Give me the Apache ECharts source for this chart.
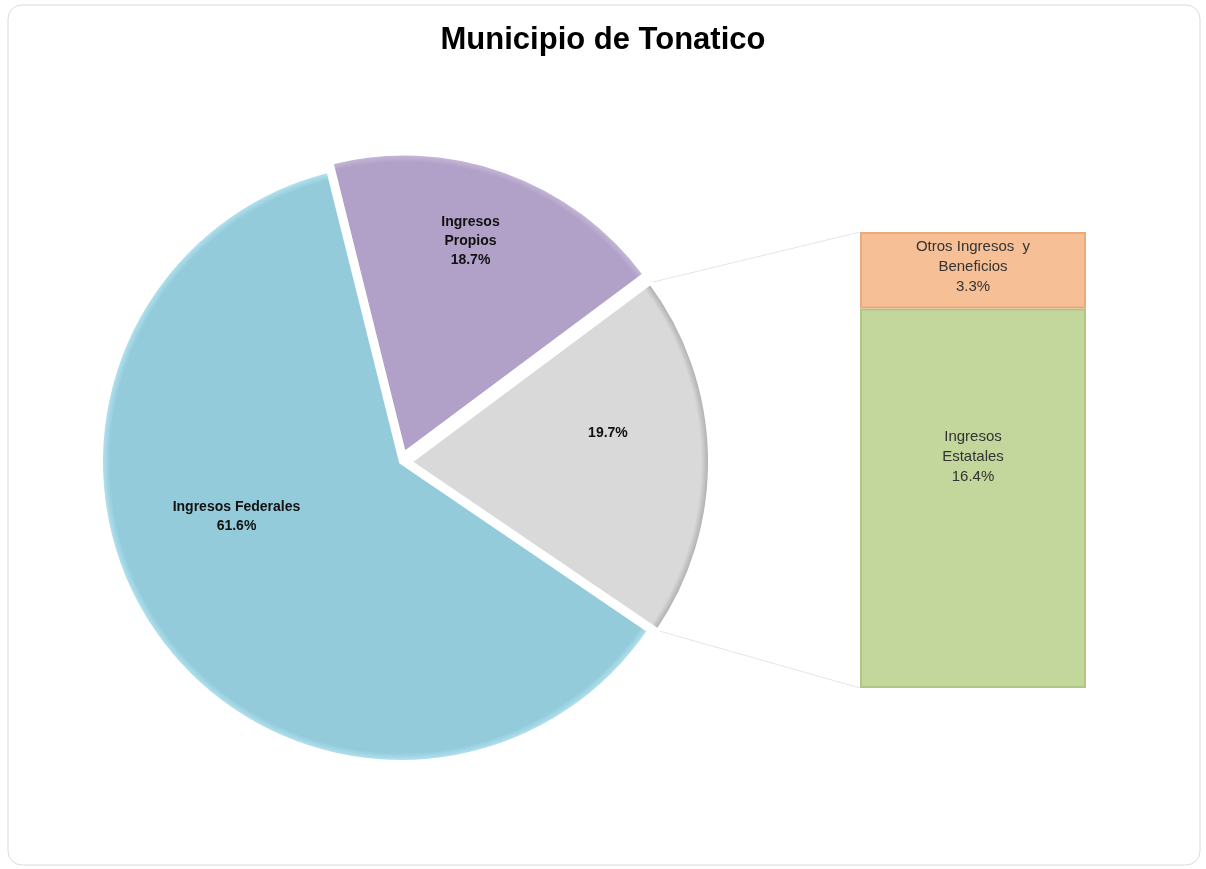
<!DOCTYPE html>
<html>
<head>
<meta charset="utf-8">
<script src="https://cdn.jsdelivr.net/npm/echarts@6/dist/echarts.min.js"></script>
<style>
  html, body { margin: 0; padding: 0; background: #fff; }
  #chart { width: 1206px; height: 869px; }
</style>
</head>
<body>
<div id="chart"></div>
<script>
// pie: main shares (the grey slice is split in the bar on the right)
const pieNames = ['Ingresos Propios', 'Otros', 'Ingresos Federales'];
const pieValues = [18.7, 19.7, 61.6];
const pieLabels = ['Ingresos\nPropios\n18.7%', '19.7%', 'Ingresos Federales\n61.6%'];

// bar: breakdown of the grey slice (bottom to top)
const barNames = ['Ingresos Estatales', 'Otros Ingresos y Beneficios'];
const barValues = [16.4, 3.3];
const barLabels = ['Ingresos\nEstatales\n16.4%', 'Otros Ingresos  y\nBeneficios\n3.3%'];

const CX = 401, CY = 462, R = 300, START = 104, OFFSET = 9;

function rim(main, edge) {
    // fake bevel: flat colour with a thin rim near the outer edge
    return {
        type: 'radial', x: CX, y: CY, r: R, global: true,
        colorStops: [
            { offset: 0, color: main },
            { offset: 0.97, color: main },
            { offset: 1, color: edge }
        ]
    };
}

const pieColors = [
    rim('#b1a0c7', '#c9bddb'),
    rim('#d9d9d9', '#a6a6a6'),
    rim('#93cbdb', '#b9e6f2')
];
const barColors = ['#c3d69b', '#f6bf96'];
const barBorders = ['#b0c783', '#e9aa7c'];
// where the bar labels sit inside their blocks
const barLabelOffset = [[0, -41], [0, -3]];

// label nudges so they sit where the original put them
const labelShift = [[15, -68], [45, -25], [-39, -33]];

const chart = echarts.init(document.getElementById('chart'));

const option = {
    animation: false,
    backgroundColor: '#fff',
    title: {
        text: 'Municipio de Tonatico',
        left: 'center',
        top: 20,
        textStyle: {
            fontFamily: 'Liberation Sans, Arial',
            fontWeight: 'bold',
            fontSize: 31,
            color: '#000'
        }
    },
    graphic: [{
        type: 'rect',
        z: -10,
        shape: { x: 8, y: 5, width: 1192, height: 860, r: 14 },
        style: { fill: '#fff', stroke: '#dcdcd2', lineWidth: 1 }
    }],
    grid: { left: 860, top: 232, width: 226, height: 456 },
    xAxis: { type: 'category', data: ['x'], show: false },
    yAxis: { type: 'value', min: 0, max: 19.7, show: false },
    series: [
        {
            type: 'pie',
            center: [CX, CY],
            radius: R,
            startAngle: START,
            clockwise: true,
            selectedMode: 'multiple',
            selectedOffset: OFFSET,
            itemStyle: { borderColor: '#fff', borderWidth: 4 },
            label: {
                show: true,
                position: 'inside',
                fontFamily: 'Liberation Sans, Arial',
                fontWeight: 'bold',
                fontSize: 14,
                lineHeight: 19,
                color: '#111'
            },
            labelLayout: function (p) {
                return { dx: labelShift[p.dataIndex][0], dy: labelShift[p.dataIndex][1] };
            },
            emphasis: { disabled: true },
            data: pieNames.map((n, i) => ({
                name: n,
                value: pieValues[i],
                selected: i < 2,
                itemStyle: { color: pieColors[i] },
                label: { formatter: pieLabels[i] }
            }))
        }
    ].concat(barNames.map((n, i) => ({
        type: 'bar',
        name: n,
        stack: 'otros',
        barWidth: '100%',
        data: [barValues[i]],
        itemStyle: { color: barColors[i], borderColor: barBorders[i], borderWidth: 2 },
        label: {
            show: true,
            position: 'inside',
            offset: barLabelOffset[i],
            formatter: barLabels[i],
            fontFamily: 'Liberation Sans, Arial',
            fontSize: 15,
            lineHeight: 20,
            color: '#333'
        },
        emphasis: { disabled: true }
    })))
};

chart.setOption(option);

// connector lines from the grey slice edges to the bar corners
// (added straight to zrender so the label layout is not run a second time)
const total = pieValues.reduce((a, b) => a + b, 0);
const a1 = (START - pieValues[0] / total * 360) * Math.PI / 180;
const a2 = a1 - pieValues[1] / total * 360 * Math.PI / 180;
const mid = (a1 + a2) / 2;
const ox = OFFSET * Math.cos(mid), oy = -OFFSET * Math.sin(mid);
const barTotal = barValues.reduce((a, b) => a + b, 0);
const topPx = chart.convertToPixel({ gridIndex: 0 }, [0, barTotal]);
const botPx = chart.convertToPixel({ gridIndex: 0 }, [0, 0]);
const barLeft = option.grid.left;
const zr = chart.getZr();

[[a1, topPx[1]], [a2, botPx[1]]].forEach(([ang, by]) => {
    zr.add(new echarts.graphic.Line({
        silent: true,
        shape: { x1: CX + ox + R * Math.cos(ang), y1: CY + oy - R * Math.sin(ang), x2: barLeft, y2: by },
        style: { stroke: '#e6e6e6', lineWidth: 1 }
    }));
});
</script>
</body>
</html>
